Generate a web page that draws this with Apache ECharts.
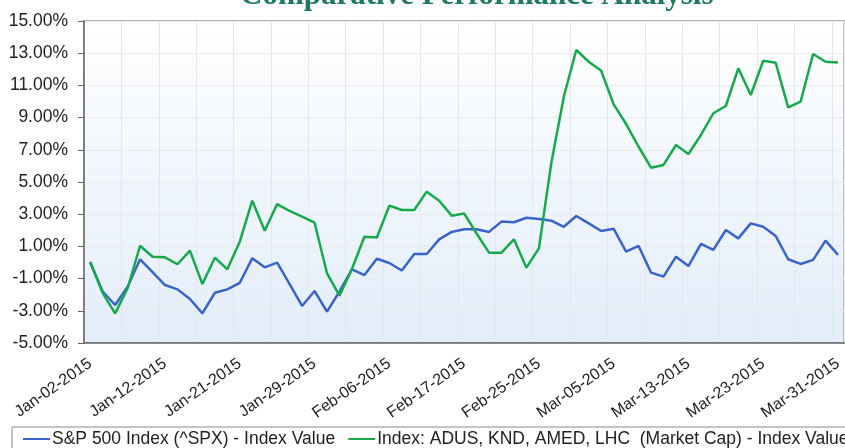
<!DOCTYPE html>
<html>
<head>
<meta charset="utf-8">
<script src="https://cdn.jsdelivr.net/npm/echarts@6/dist/echarts.min.js"></script>
<style>
  html, body { margin: 0; padding: 0; background: #fff; }
  #main { width: 845px; height: 448px; }
</style>
</head>
<body>
<div id="main"></div>
<script>
// trading days Jan-02-2015 .. Mar-31-2015
var dates = [
  'Jan-02-2015','Jan-05-2015','Jan-06-2015','Jan-07-2015','Jan-08-2015','Jan-09-2015',
  'Jan-12-2015','Jan-13-2015','Jan-14-2015','Jan-15-2015','Jan-16-2015','Jan-20-2015',
  'Jan-21-2015','Jan-22-2015','Jan-23-2015','Jan-26-2015','Jan-27-2015','Jan-28-2015',
  'Jan-29-2015','Jan-30-2015','Feb-02-2015','Feb-03-2015','Feb-04-2015','Feb-05-2015',
  'Feb-06-2015','Feb-09-2015','Feb-10-2015','Feb-11-2015','Feb-12-2015','Feb-13-2015',
  'Feb-17-2015','Feb-18-2015','Feb-19-2015','Feb-20-2015','Feb-23-2015','Feb-24-2015',
  'Feb-25-2015','Feb-26-2015','Feb-27-2015','Mar-02-2015','Mar-03-2015','Mar-04-2015',
  'Mar-05-2015','Mar-06-2015','Mar-09-2015','Mar-10-2015','Mar-11-2015','Mar-12-2015',
  'Mar-13-2015','Mar-16-2015','Mar-17-2015','Mar-18-2015','Mar-19-2015','Mar-20-2015',
  'Mar-23-2015','Mar-24-2015','Mar-25-2015','Mar-26-2015','Mar-27-2015','Mar-30-2015',
  'Mar-31-2015'
];

// S&P 500 (%)
var spx = [
  0.0, -1.8, -2.64, -1.5, 0.2, -0.6, -1.4, -1.67, -2.27, -3.16,
  -1.88, -1.67, -1.26, 0.26, -0.3, -0.01, -1.35, -2.7, -1.77, -3.05,
  -1.8, -0.42, -0.78, 0.23, -0.03, -0.5, 0.53, 0.53, 1.44, 1.9,
  2.06, 2.06, 1.9, 2.54, 2.5, 2.78, 2.7, 2.6, 2.22, 2.89,
  2.43, 1.96, 2.09, 0.67, 1.03, -0.63, -0.88, 0.36, -0.22, 1.15,
  0.78, 2.02, 1.5, 2.43, 2.22, 1.65, 0.2, -0.09, 0.16, 1.36,
  0.47
];

// Index: ADUS, KND, AMED, LHC (%)
var idx = [
  0.05, -1.9, -3.16, -1.6, 1.04, 0.36, 0.32, -0.11, 0.74, -1.34,
  0.3, -0.42, 1.29, 3.84, 1.97, 3.63, 3.2, 2.85, 2.47, -0.67,
  -2.06, -0.4, 1.6, 1.55, 3.53, 3.26, 3.26, 4.4, 3.84, 2.91,
  3.05, 1.8, 0.61, 0.61, 1.44, -0.32, 0.88, 6.2, 10.3, 13.2,
  12.47, 11.91, 9.82, 8.6, 7.19, 5.89, 6.06, 7.3, 6.74, 7.92,
  9.27, 9.72, 12.06, 10.4, 12.53, 12.41, 9.64, 9.99, 12.95, 12.47,
  12.43
];

var names = [
  'S&P 500 Index (^SPX) - Index Value',
  'Index: ADUS, KND, AMED, LHC  (Market Cap) - Index Value'
];

// y axis runs -5..15 step 2; shifted by +5 so ticks start at a multiple of the interval
var yShift = 5;

var chart = echarts.init(document.getElementById('main'));

var option = {
  animation: false,
  title: {
    text: 'Comparative Performance Analysis',
    left: 235,
    top: -25,
    textStyle: {
      fontFamily: 'Liberation Serif',
      fontWeight: 'bold',
      fontSize: 31,
      color: '#1d7a64'
    }
  },
  legend: {
    data: names,
    left: 12,
    top: 427,
    width: 1200,
    icon: 'rect',
    itemWidth: 27,
    itemHeight: 2,
    itemGap: 13,
    padding: [3, 10, 4, 11],
    borderColor: '#8a8a8a',
    borderWidth: 1,
    textStyle: {
      fontFamily: 'Liberation Sans',
      fontSize: 17.5,
      color: '#222',
      padding: [0, 0, 0, -3]
    }
  },
  grid: {
    left: 84,
    top: 21,
    width: 766,
    height: 322,
    show: true,
    borderWidth: 2,
    borderColor: '#b3b3b3',
    backgroundColor: new echarts.graphic.LinearGradient(0, 0, 0, 1, [
      { offset: 0, color: '#ffffff' },
      { offset: 1, color: '#e2edfa' }
    ])
  },
  xAxis: {
    type: 'category',
    data: dates,
    boundaryGap: true,
    axisLine: { lineStyle: { color: '#666', width: 1.5 } },
    axisTick: { interval: 2, length: 6, lineStyle: { color: '#666' } },
    splitLine: { show: true, interval: 2, lineStyle: { color: '#e6e6e6' } },
    axisLabel: {
      interval: 5,
      rotate: 35,
      margin: 19,
      fontFamily: 'Liberation Sans',
      fontSize: 16,
      color: '#222'
    }
  },
  yAxis: {
    type: 'value',
    min: 0,
    max: 20,
    interval: 2,
    axisLine: { show: true, lineStyle: { color: '#666', width: 1.5 } },
    axisTick: { show: true, length: 6, lineStyle: { color: '#666' } },
    splitLine: { show: true, lineStyle: { color: '#ebebeb' } },
    axisLabel: {
      margin: 16,
      fontFamily: 'Liberation Sans',
      fontSize: 17.5,
      color: '#222',
      formatter: function (v) { return (v - yShift).toFixed(2) + '%'; }
    }
  },
  series: [
    {
      name: names[0],
      type: 'line',
      data: spx.map(function (v) { return v + yShift; }),
      symbol: 'none',
      color: '#3a64cc',
      lineStyle: { width: 2.5, color: '#3a64cc' }
    },
    {
      name: names[1],
      type: 'line',
      data: idx.map(function (v) { return v + yShift; }),
      symbol: 'none',
      color: '#17aa4c',
      lineStyle: { width: 2.5, color: '#17aa4c' }
    }
  ]
};

chart.setOption(option);
</script>
</body>
</html>
